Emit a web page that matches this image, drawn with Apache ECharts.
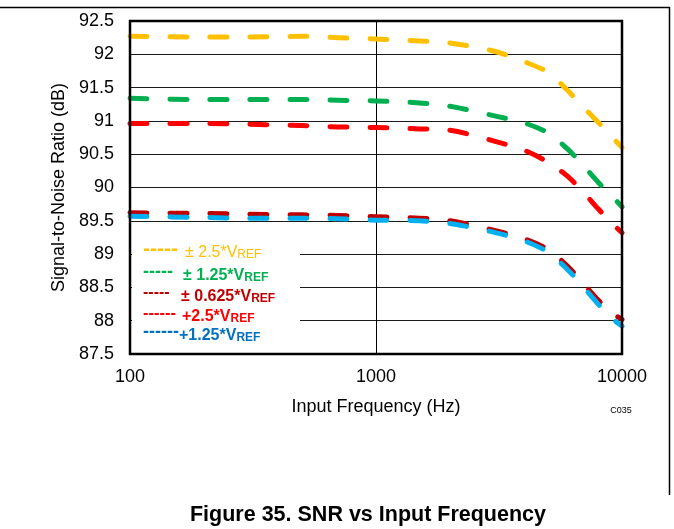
<!DOCTYPE html>
<html>
<head>
<meta charset="utf-8">
<script src="https://cdn.jsdelivr.net/npm/echarts@6/dist/echarts.min.js"></script>
<style>
html,body{margin:0;padding:0;background:#fff;}
#chart{width:674px;height:529px;}
</style>
</head>
<body>
<div id="chart"></div>
<script>
// ---- data ----
const freqs = [100, 200, 300, 500, 700, 1000, 1500, 2000, 3000, 4000, 5000, 6000, 7000, 8000, 9000, 10000];
const snrPm25   = [92.27, 92.26, 92.26, 92.27, 92.25, 92.23, 92.20, 92.17, 92.05, 91.89, 91.73, 91.46, 91.20, 90.98, 90.78, 90.60];
const snrPm125  = [91.34, 91.32, 91.32, 91.32, 91.31, 91.30, 91.27, 91.22, 91.08, 90.97, 90.82, 90.58, 90.32, 90.08, 89.89, 89.71];
const snrPm0625 = [89.62, 89.61, 89.60, 89.59, 89.58, 89.56, 89.54, 89.50, 89.36, 89.23, 89.07, 88.82, 88.55, 88.31, 88.13, 88.02];
const snrP25    = [90.96, 90.96, 90.95, 90.93, 90.91, 90.90, 90.88, 90.86, 90.70, 90.56, 90.38, 90.17, 89.92, 89.68, 89.48, 89.32];
const snrP125   = [89.57, 89.55, 89.54, 89.54, 89.53, 89.51, 89.50, 89.46, 89.33, 89.20, 89.03, 88.77, 88.50, 88.25, 88.05, 87.92];
const xTicks = [100, 1000, 10000];
const yTicks = [87.5, 88, 88.5, 89, 89.5, 90, 90.5, 91, 91.5, 92, 92.5];
const legendDashes = ['-----', '-----', '-----', '------', '------'];
const legendMain = ['± 2.5*V', '± 1.25*V', '± 0.625*V', '+2.5*V', '+1.25*V'];
const legendSub = ['REF', 'REF', 'REF', 'REF', 'REF'];
const xTitle = 'Input Frequency (Hz)';
const yTitle = 'Signal-to-Noise Ratio (dB)';
const figTitle = 'Figure 35. SNR vs Input Frequency';
const figCode = 'C035';

// ---- chart ----
const FONT = '"Liberation Sans", Arial, sans-serif';
const chart = echarts.init(document.getElementById('chart'), null, {renderer: 'canvas'});
const pair = arr => freqs.map((f, i) => [f, arr[i]]);
function lineSeries(name, arr, color, z) {
  return {
    name: name, type: 'line', data: pair(arr), smooth: 0.3, showSymbol: false, symbol: 'none',
    z: z, silent: true, animation: false,
    lineStyle: {color: color, width: 5, type: [17, 23], cap: 'round', join: 'round'}
  };
}
const legendColors = ['#FFC000', '#00B050', '#C00000', '#FF0000', '#0070C0'];
const legendWeights = ['normal', 'bold', 'bold', 'bold', 'bold'];
const rowY = [248, 271, 292, 312, 331];
const dashX = 143;
const dashSize = [21, 18, 16, 16.5, 18];
const textX = [185, 183, 181, 182, 179];
const graphics = [
  {type: 'line', shape: {x1: 0, y1: 7.5, x2: 669.5, y2: 7.5}, style: {stroke: '#000', lineWidth: 1.5}},
  {type: 'line', shape: {x1: 669.5, y1: 7, x2: 669.5, y2: 495}, style: {stroke: '#000', lineWidth: 1.5}},
  {type: 'rect', shape: {x: 132, y: 236, width: 168, height: 106}, style: {fill: '#fff'}, z: 50},
  {type: 'text', x: 621, y: 411, style: {text: figCode, font: '9px ' + FONT, fill: '#000', align: 'center', verticalAlign: 'middle'}},
  {type: 'text', x: 368, y: 515, style: {text: figTitle, font: 'bold 21.5px ' + FONT, fill: '#000', align: 'center', verticalAlign: 'middle'}}
];
for (let i = 0; i < legendMain.length; i++) {
  graphics.push({type: 'text', x: dashX, y: rowY[i] + 1, z: 51, style: {
    text: legendDashes[i], font: 'bold ' + dashSize[i] + 'px ' + FONT, fill: legendColors[i], align: 'left', verticalAlign: 'middle'}});
  graphics.push({type: 'text', x: textX[i], y: rowY[i], z: 51, style: {
    text: '{m|' + legendMain[i] + '}{s|' + legendSub[i] + '}', align: 'left', verticalAlign: 'middle',
    fill: legendColors[i],
    rich: {
      m: {fontFamily: FONT, fontSize: 16, fontWeight: legendWeights[i], fill: legendColors[i], lineHeight: 26, verticalAlign: 'bottom'},
      s: {fontFamily: FONT, fontSize: 12, fontWeight: legendWeights[i], fill: legendColors[i], lineHeight: 12, verticalAlign: 'bottom'}
    }}});
}

chart.setOption({
  animation: false,
  backgroundColor: '#fff',
  grid: {left: 130, right: 52, top: 21, bottom: 175, show: true, borderColor: '#000', borderWidth: 2.5, backgroundColor: 'transparent', z: 10},
  xAxis: {
    type: 'log', logBase: 10, min: xTicks[0], max: xTicks[xTicks.length - 1],
    name: xTitle, nameLocation: 'middle', nameGap: 44,
    nameTextStyle: {fontFamily: FONT, fontSize: 18, color: '#000'},
    axisLine: {show: false}, axisTick: {show: false}, minorTick: {show: false},
    axisLabel: {fontFamily: FONT, fontSize: 18, color: '#000', margin: 14,
      formatter: v => { const r = Math.round(v); return xTicks.indexOf(r) >= 0 ? String(r) : ''; }},
    splitLine: {show: true, lineStyle: {color: '#000', width: 1}}
  },
  yAxis: {
    type: 'value', min: yTicks[0], max: yTicks[yTicks.length - 1], interval: 0.5,
    name: yTitle, nameLocation: 'middle', nameGap: 59, nameRotate: 90,
    nameTextStyle: {fontFamily: FONT, fontSize: 18, color: '#000'},
    axisLine: {show: false}, axisTick: {show: false},
    axisLabel: {fontFamily: FONT, fontSize: 18, color: '#000', margin: 16, formatter: v => String(+v.toFixed(1))},
    splitLine: {show: true, lineStyle: {color: '#1a1a1a', width: 1}}
  },
  series: [
    lineSeries('± 2.5*VREF', snrPm25, '#FFC000', 2),
    lineSeries('± 1.25*VREF', snrPm125, '#00B050', 3),
    lineSeries('+2.5*VREF', snrP25, '#FF0000', 4),
    lineSeries('± 0.625*VREF', snrPm0625, '#C00000', 5),
    lineSeries('+1.25*VREF', snrP125, '#00B0F0', 6)
  ],
  graphic: graphics
});
</script>
</body>
</html>
